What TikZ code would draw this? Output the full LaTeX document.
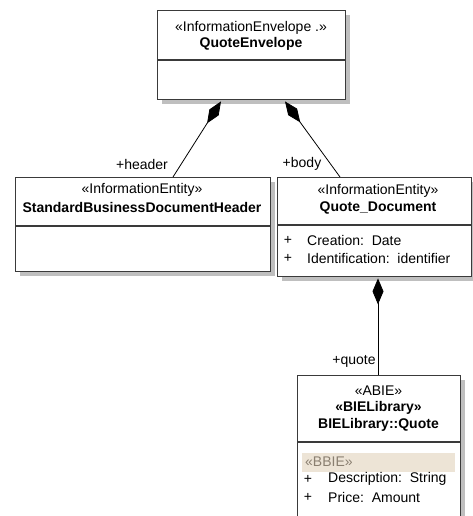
\documentclass[tikz,border=0pt]{standalone}
\usepackage{fontspec}
\setmainfont{Liberation Sans}
\usetikzlibrary{arrows.meta,shadows}
\definecolor{boxline}{HTML}{3A3A3A}
\definecolor{bbieband}{HTML}{EDE4D6}
\definecolor{bbietext}{HTML}{8A7F70}
\tikzset{
  umlbox/.style={draw=boxline,line width=1.4pt,fill=white,anchor=north west,inner sep=0pt,
    drop shadow={shadow xshift=4pt,shadow yshift=-4pt,fill=black!25,opacity=1}},
  stereo/.style={font=\fontsize{14}{16}\selectfont,inner sep=0pt},
  title/.style={font=\fontsize{14}{16}\selectfont\bfseries,inner sep=0pt},
  attr/.style={font=\fontsize{14}{16}\selectfont,anchor=west,inner sep=0pt},
  plus/.style={font=\fontsize{14}{16}\selectfont,inner sep=0pt},
  role/.style={font=\fontsize{14}{16}\selectfont,inner sep=0pt},
  sepline/.style={draw=boxline,line width=1.2pt},
  comp/.style={line width=0.8pt,-{Diamond[length=26pt,width=11pt]}}
}
\begin{document}
\begin{tikzpicture}[x=1pt,y=-1pt]
\useasboundingbox (0,0) rectangle (473,516);

% envelope
\node[umlbox,minimum width=188pt,minimum height=89pt] (env) at (157,10) {};
\draw[sepline] ([yshift=-50pt]env.north west) -- ([yshift=-50pt]env.north east);
\node[stereo] (envst) at (251,28) {«InformationEnvelope .»};
\node[title] (envtt) at (251,44) {QuoteEnvelope};

% header
\node[umlbox,minimum width=255pt,minimum height=94pt] (hdr) at (15,177) {};
\draw[sepline] ([yshift=-49pt]hdr.north west) -- ([yshift=-49pt]hdr.north east);
\node[stereo] (hdrst) at (142,190) {«InformationEntity»};
\node[title] (hdrtt) at (142,207) {StandardBusinessDocumentHeader};

% quote document
\node[umlbox,minimum width=194pt,minimum height=99pt] (qdoc) at (277,177) {};
\draw[sepline] ([yshift=-48pt]qdoc.north west) -- ([yshift=-48pt]qdoc.north east);
\node[stereo] (qdocst) at (378,191) {«InformationEntity»};
\node[title] (qdoctt) at (378,208) {Quote\_Document};
\node[plus] (qp1) at (288,240) {+};
\node[attr] (qa1) at (307,240) {Creation:\ \ Date};
\node[plus] (qp2) at (288,258) {+};
\node[attr] (qa2) at (307,258) {Identification:\ \ identifier};

% BIE
\node[umlbox,minimum width=163pt,minimum height=160pt] (bie) at (297,375) {};
\draw[sepline] ([yshift=-67pt]bie.north west) -- ([yshift=-67pt]bie.north east);
\node[stereo] (biest) at (378.5,391) {«ABIE»};
\node[title] (bielib) at (378.5,408) {«BIELibrary»};
\node[title] (biett) at (378.5,425) {BIELibrary::Quote};
\fill[bbieband] (302,453) rectangle (455,472);
\node[attr,text=bbietext] (bbie) at (305,462) {«BBIE»};
\node[plus] (bp1) at (308,479) {+};
\node[attr] (ba1) at (328,479) {Description:\ \ String};
\node[plus] (bp2) at (308,497) {+};
\node[attr] (ba2) at (328,497) {Price:\ \ Amount};

% compositions
\coordinate (hdrend) at ([xshift=158pt]hdr.north west);
\coordinate (envl) at ([xshift=64pt,yshift=-1pt]env.south west);
\coordinate (bodyend) at ([xshift=63pt]qdoc.north west);
\coordinate (envr) at ([xshift=128pt,yshift=-1pt]env.south west);
\coordinate (quoteend) at ([xshift=81pt]bie.north west);
\coordinate (qdocb) at ([xshift=101pt,yshift=-1pt]qdoc.south west);
\draw[comp] (hdrend) -- (envl);
\draw[comp] (bodyend) -- (envr);
\draw[comp] (quoteend) -- (qdocb);

\node[role] (rhdr) at (142,164) {+header};
\node[role] (rbody) at (302,164) {+body};
\node[role] (rquote) at (354,361) {+quote};
\end{tikzpicture}
\end{document}
